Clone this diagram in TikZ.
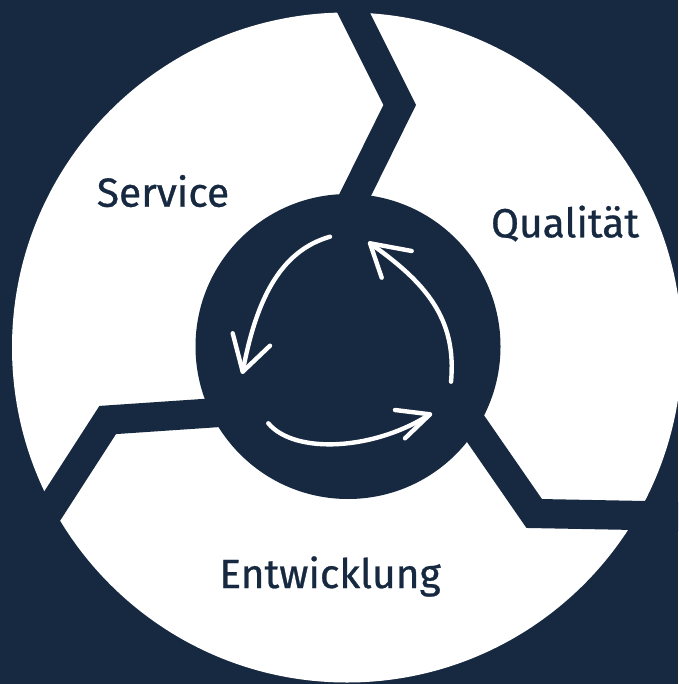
\documentclass[tikz,border=0pt]{standalone}
\usepackage{fontspec}
\newfontfamily\labfont{Fira Sans}[FakeBold=0.7]
\definecolor{navy}{RGB}{23,41,64}
\begin{document}
\begin{tikzpicture}[x=0.75pt,y=-0.75pt,
  band/.style={draw=navy,line width=21.9pt,line join=miter,line cap=butt},
  cyc/.style={draw=white,line width=3.3pt,line cap=round,line join=round},
  lab/.style={text=navy,font=\labfont\fontsize{30.5}{32}\selectfont,anchor=base,inner sep=0pt}]
\useasboundingbox (0,0) rectangle (678,684);
\clip (0,0) rectangle (678,684);
\fill[navy] (0,0) rectangle (678,684);
\fill[white] (347,347.5) circle[radius=251.25pt];
% separating bands
\draw[band] (337.3,-20) -- (399.7,105) -- (323,260);
\draw[band] (260,409.7) -- (107.7,420) -- (-0.7,588);
\draw[band] (448.9,390.2) -- (534.2,513.5) -- (720,517);
% inner disc
\fill[navy] (348,346.5) circle[radius=114.375pt];
% cycle arrows
\draw[cyc] (330,236.7) .. controls (280,251) and (256,300) .. (242.7,371.7);
\draw[cyc] (232.7,333.3) -- (242.7,371.7) -- (270,345.7);
\draw[cyc] (451,381.7) .. controls (457,318) and (425,282) .. (370,243.3);
\draw[cyc] (381.7,277.7) -- (370,243.3) -- (411.7,251);
\draw[cyc] (268.3,423.3) .. controls (295,455) and (375,450) .. (430,414.3);
\draw[cyc] (395,410) -- (430,414.3) -- (405,438.3);
% labels
\node[lab] (service) at (163,206.7) {Service};
\node[lab] (qualitaet) at (565,237.3) {Qualität};
\node[lab] (entw) at (330,588) {Entwicklung};
\end{tikzpicture}
\end{document}
